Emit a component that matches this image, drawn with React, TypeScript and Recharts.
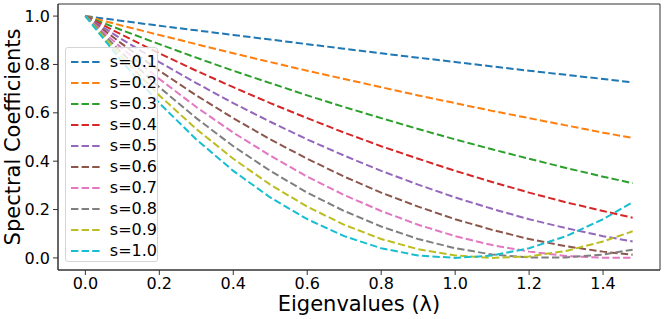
import {
  Label,
  Line,
  LineChart,
  ReferenceArea,
  XAxis,
  YAxis,
} from "recharts";

// eigenvalues sampled along the x axis
const lambdas = [0, 0.1, 0.2, 0.3, 0.4, 0.5, 0.6, 0.7, 0.8, 0.9, 1.0, 1.1, 1.2, 1.3, 1.4, 1.48];

const s01 = [1, 0.98, 0.96, 0.941, 0.922, 0.903, 0.884, 0.865, 0.846, 0.828, 0.81, 0.792, 0.774, 0.757, 0.74, 0.726];
const s02 = [1, 0.96, 0.922, 0.884, 0.846, 0.81, 0.774, 0.74, 0.706, 0.672, 0.64, 0.608, 0.578, 0.548, 0.518, 0.496];
const s03 = [1, 0.941, 0.884, 0.828, 0.774, 0.723, 0.672, 0.624, 0.578, 0.533, 0.49, 0.449, 0.41, 0.372, 0.336, 0.309];
const s04 = [1, 0.922, 0.846, 0.774, 0.706, 0.64, 0.578, 0.518, 0.462, 0.41, 0.36, 0.314, 0.27, 0.23, 0.194, 0.166];
const s05 = [1, 0.903, 0.81, 0.723, 0.64, 0.563, 0.49, 0.423, 0.36, 0.303, 0.25, 0.203, 0.16, 0.123, 0.09, 0.068];
const s06 = [1, 0.884, 0.774, 0.672, 0.578, 0.49, 0.41, 0.336, 0.27, 0.212, 0.16, 0.116, 0.078, 0.048, 0.026, 0.013];
const s07 = [1, 0.865, 0.74, 0.624, 0.518, 0.423, 0.336, 0.26, 0.194, 0.137, 0.09, 0.053, 0.026, 0.008, 0.0004, 0.001];
const s08 = [1, 0.846, 0.706, 0.578, 0.462, 0.36, 0.27, 0.194, 0.13, 0.078, 0.04, 0.014, 0.002, 0.002, 0.014, 0.034];
const s09 = [1, 0.828, 0.672, 0.533, 0.41, 0.303, 0.212, 0.137, 0.078, 0.036, 0.01, 0.0001, 0.006, 0.029, 0.068, 0.11];
const s10 = [1, 0.81, 0.64, 0.49, 0.36, 0.25, 0.16, 0.09, 0.04, 0.01, 0, 0.01, 0.04, 0.09, 0.16, 0.23];

const seriesNames = ["s=0.1", "s=0.2", "s=0.3", "s=0.4", "s=0.5", "s=0.6", "s=0.7", "s=0.8", "s=0.9", "s=1.0"];
const seriesValues = [s01, s02, s03, s04, s05, s06, s07, s08, s09, s10];
const colors = ["#1f77b4", "#ff7f0e", "#2ca02c", "#d62728", "#9467bd", "#8c564b", "#e377c2", "#7f7f7f", "#bcbd22", "#17becf"];

const xTicks = [0, 0.2, 0.4, 0.6, 0.8, 1.0, 1.2, 1.4];
const yTicks = [0, 0.2, 0.4, 0.6, 0.8, 1.0];

const X_DOMAIN: [number, number] = [-0.074, 1.554];
const Y_DOMAIN: [number, number] = [-0.05, 1.05];

const FONT = "'DejaVu Sans', sans-serif";
const DASH = "7.4 3.2";

const data = lambdas.map((x, i) => {
  const row: Record<string, number> = { x };
  seriesNames.forEach((name, k) => {
    row[name] = seriesValues[k][i];
  });
  return row;
});

function LegendBox() {
  return (
    <div
      style={{
        position: "absolute",
        left: 65,
        top: 47,
        width: 93,
        height: 215,
        boxSizing: "border-box",
        border: "1px solid #d5d5d5",
        borderRadius: 3,
        background: "rgba(255,255,255,0.8)",
        fontFamily: FONT,
        fontSize: 16,
        color: "#000",
        paddingTop: 3,
      }}
    >
      {seriesNames.map((name, k) => (
        <div
          key={name}
          style={{ display: "flex", alignItems: "center", height: 21.08 }}
        >
          <svg width={40} height={10} style={{ marginLeft: 4 }}>
            <line
              x1={1}
              y1={5}
              x2={31}
              y2={5}
              stroke={colors[k]}
              strokeWidth={2}
              strokeDasharray={DASH}
            />
          </svg>
          <span style={{ marginLeft: 2, lineHeight: "16px" }}>{name}</span>
        </div>
      ))}
    </div>
  );
}

export default function App() {
  const tickStyle = { fill: "#000", fontSize: 16, fontFamily: FONT };
  return (
    <div
      style={{
        position: "absolute",
        left: 0,
        top: 0,
        width: 665,
        height: 319,
        background: "#fff",
      }}
    >
      <LineChart
        width={665}
        height={319}
        data={data}
        margin={{ top: 4, right: 5, bottom: 0, left: 0 }}
      >
        <XAxis
          dataKey="x"
          type="number"
          domain={X_DOMAIN}
          ticks={xTicks}
          allowDataOverflow
          tickFormatter={(v: number) => v.toFixed(1)}
          tick={tickStyle}
          tickSize={5}
          tickMargin={3}
          stroke="#333"
          height={49}
        >
          <Label
            value="Eigenvalues (λ)"
            position="insideBottom"
            offset={8}
            style={{ fontSize: 21, fontFamily: FONT, fill: "#000" }}
          />
        </XAxis>
        <YAxis
          type="number"
          domain={Y_DOMAIN}
          ticks={yTicks}
          allowDataOverflow
          tickFormatter={(v: number) => v.toFixed(1)}
          tick={tickStyle}
          tickSize={5}
          tickMargin={3}
          stroke="#333"
          width={58}
        >
          <Label
            value="Spectral Coefficients"
            angle={-90}
            position="insideLeft"
            offset={13}
            style={{
              fontSize: 21,
              fontFamily: FONT,
              fill: "#000",
              textAnchor: "middle",
            }}
          />
        </YAxis>
        <ReferenceArea
          x1={X_DOMAIN[0]}
          x2={X_DOMAIN[1]}
          y1={Y_DOMAIN[0]}
          y2={Y_DOMAIN[1]}
          fill="none"
          stroke="#333"
          strokeWidth={1}
          ifOverflow="visible"
        />
        {seriesNames.map((name, k) => (
          <Line
            key={name}
            dataKey={name}
            type="linear"
            stroke={colors[k]}
            strokeWidth={2}
            strokeDasharray={DASH}
            dot={false}
            activeDot={false}
            isAnimationActive={false}
          />
        ))}
      </LineChart>
      <LegendBox />
    </div>
  );
}
